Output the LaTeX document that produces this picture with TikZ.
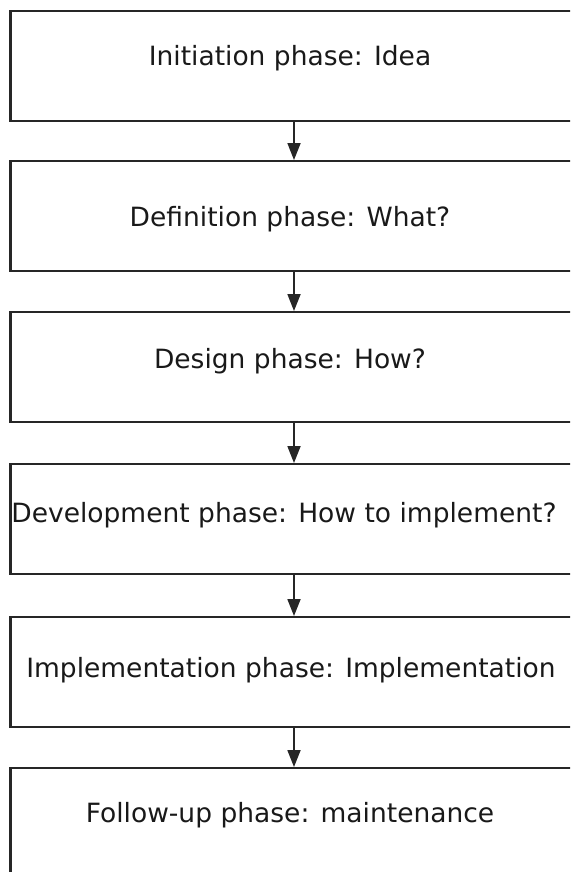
\documentclass[tikz,border=0pt]{standalone}
\usepackage{fontspec}
\setmainfont{DejaVu Sans}
\usetikzlibrary{arrows.meta}
\begin{document}
\begin{tikzpicture}[x=1pt,y=-1pt,
  phasebox/.style={draw=black!85,line width=2.3pt,rectangle,minimum width=567pt,minimum height=110pt,inner sep=0pt,anchor=north},
  phasetext/.style={anchor=base,inner sep=0pt,font=\fontsize{26.5}{30}\selectfont,text=black!90},
  arr/.style={draw=black!85,line width=1.8pt,-{Triangle[length=17pt,width=13pt]}}]
\useasboundingbox (0,0) rectangle (570,872);
\clip (0,0) rectangle (570,872);
\node[phasebox] (b1) at (294,10) {};
\node[phasebox] (b2) at (294,160) {};
\node[phasebox] (b3) at (294,311) {};
\node[phasebox] (b4) at (294,463) {};
\node[phasebox] (b5) at (294,616) {};
\node[phasebox] (b6) at (294,767) {};
\node[phasetext] (t1) at (290,66) {Initiation phase: Idea};
\node[phasetext] (t2) at (290,226) {Definition phase: What?};
\node[phasetext] (t3) at (290,368) {Design phase: How?};
\node[phasetext] (t4) at (284,522) {Development phase: How to implement?};
\node[phasetext] (t5) at (291,677) {Implementation phase: Implementation};
\node[phasetext] (t6) at (290,822) {Follow-up phase: maintenance};
\draw[arr] (b1.south) -- (b2.north);
\draw[arr] (b2.south) -- (b3.north);
\draw[arr] (b3.south) -- (b4.north);
\draw[arr] (b4.south) -- (b5.north);
\draw[arr] (b5.south) -- (b6.north);
\end{tikzpicture}
\end{document}
